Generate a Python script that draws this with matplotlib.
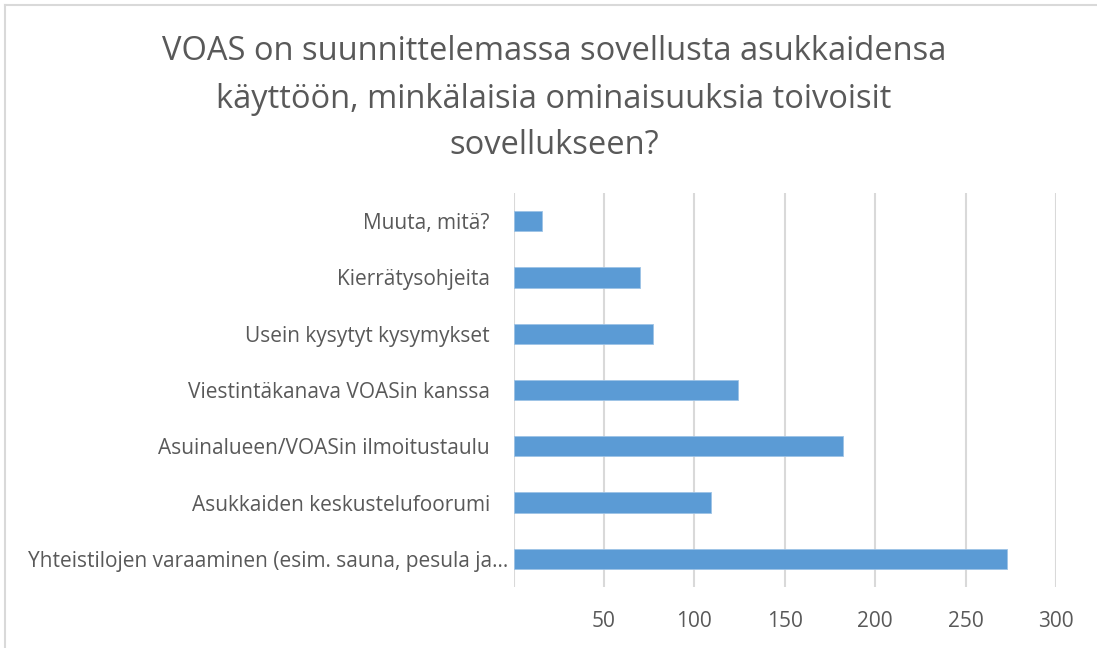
import matplotlib.pyplot as plt
from matplotlib.lines import Line2D
from matplotlib.transforms import ScaledTranslation

categories = [
    "Yhteistilojen varaaminen (esim. sauna, pesula ja...",
    "Asukkaiden keskustelufoorumi",
    "Asuinalueen/VOASin ilmoitustaulu",
    "Viestintäkanava VOASin kanssa",
    "Usein kysytyt kysymykset",
    "Kierrätysohjeita",
    "Muuta, mitä?",
]
values = [273, 109, 182, 124, 77, 70, 16]
xticks = [50, 100, 150, 200, 250, 300]

title = ("VOAS on suunnittelemassa sovellusta asukkaidensa\n"
         "käyttöön, minkälaisia ominaisuuksia toivoisit\n"
         "sovellukseen?")

text_col = "#595959"
grid_col = "#D9D9D9"
bar_col = "#5B9BD5"

plt.rcParams['font.family'] = ['Open Sans', 'DejaVu Sans']

fig = plt.figure(figsize=(10.97, 6.48), dpi=100)
W, H = 1097, 648
# axes box in pixels: left 513.5, right 1056, top 193, bottom 587
ax = fig.add_axes([513.5 / W, 1 - 587 / H, (1056 - 513.5) / W, (587 - 193) / H])

ax.barh(range(len(values)), values, height=0.36, color=bar_col,
        edgecolor="#9DC3E6", linewidth=0.6, zorder=3)
ax.set_xlim(0, 300)
ax.set_ylim(-0.5, len(values) - 0.5)

ax.set_yticks(range(len(categories)))
ax.set_yticklabels(categories, fontsize=15, color=text_col)
ax.set_xticks([0] + xticks)
ax.set_xticklabels([""] + [str(t) for t in xticks], fontsize=15, color=text_col)
ax.tick_params(axis='both', length=0)
ax.tick_params(axis='x', pad=17)
ax.tick_params(axis='y', pad=17)

# the truncated label sits closer to the axis
lbl = ax.get_yticklabels()[0]
lbl.set_transform(lbl.get_transform() + ScaledTranslation(18 / 100, 0, fig.dpi_scale_trans))

ax.grid(axis='x', color=grid_col, linewidth=1.5, zorder=0)
for s in ax.spines.values():
    s.set_visible(False)

fig.text(554 / W, 1 - 99 / H, title, ha='center', va='center',
         fontsize=23.5, color=text_col, linespacing=1.56)

# chart border (top and left only visible)
fig.add_artist(Line2D([5 / W, 1], [1 - 4.5 / H, 1 - 4.5 / H], color=grid_col, lw=1.5))
fig.add_artist(Line2D([5 / W, 5 / W], [0, 1 - 4.5 / H], color=grid_col, lw=1.5))

fig.savefig("out.png", dpi=100)
